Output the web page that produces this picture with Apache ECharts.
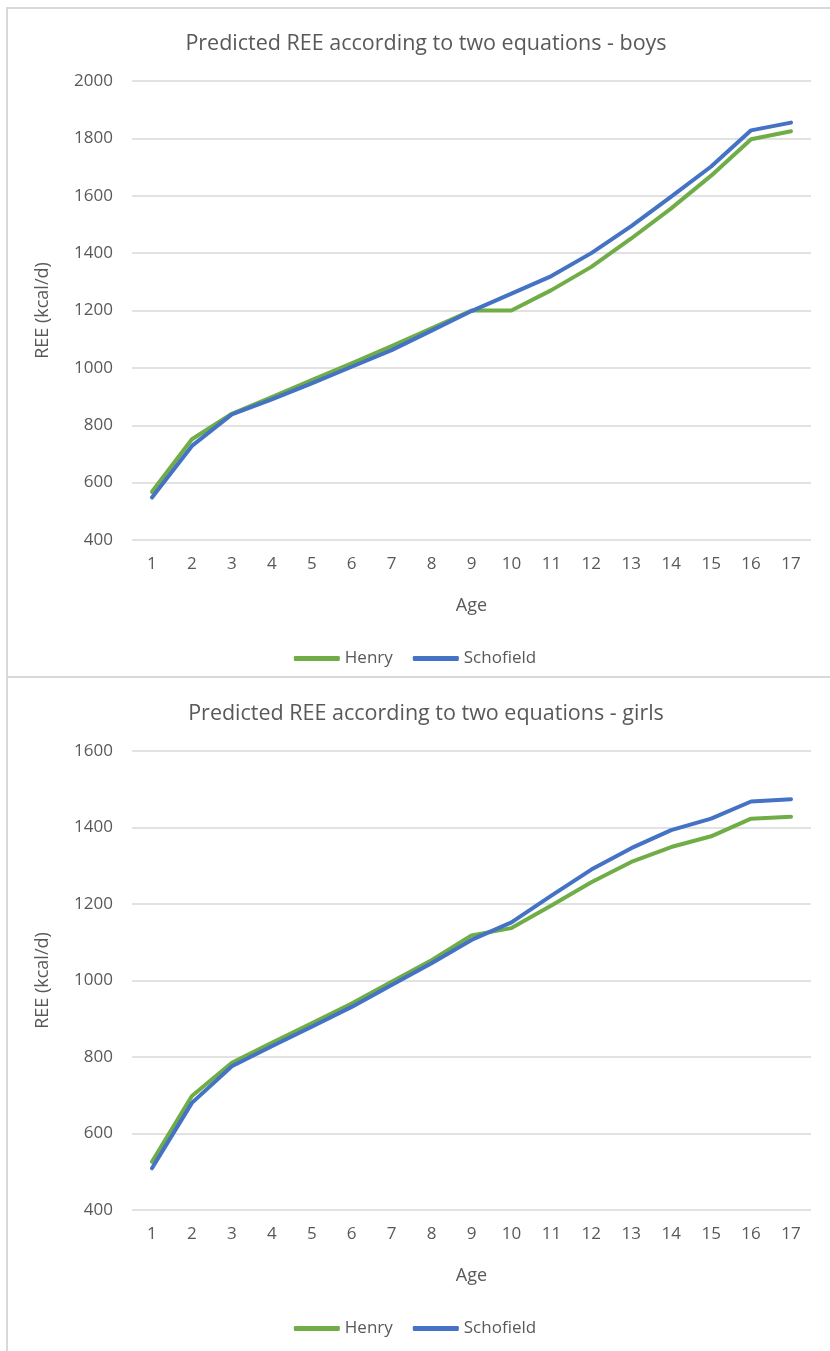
<!DOCTYPE html>
<html>
<head>
<meta charset="utf-8">
<script src="https://cdn.jsdelivr.net/npm/echarts@6/dist/echarts.min.js"></script>
<style>
html,body{margin:0;padding:0;background:#fff;}
#c{width:830px;height:1351px;}
</style>
</head>
<body>
<div id="c"></div>
<script>
const ages = ['1','2','3','4','5','6','7','8','9','10','11','12','13','14','15','16','17'];
const boysHenry = [568, 751, 840, 898, 957, 1016, 1076, 1138, 1200, 1200, 1271, 1352, 1451, 1556, 1670, 1797, 1825];
const boysSchofield = [548, 728, 838, 890, 946, 1004, 1062, 1130, 1198, 1259, 1320, 1400, 1494, 1597, 1702, 1828, 1855];
const girlsHenry = [526, 698, 785, 837, 888, 940, 997, 1053, 1118, 1137, 1196, 1257, 1310, 1349, 1377, 1423, 1428];
const girlsSchofield = [509, 680, 776, 828, 879, 931, 988, 1045, 1106, 1152, 1222, 1290, 1346, 1393, 1423, 1468, 1474];
const seriesNames = ['Henry', 'Schofield'];
const titles = ['Predicted REE according to two equations - boys', 'Predicted REE according to two equations - girls'];
const yNames = ['REE (kcal/d)', 'REE (kcal/d)'];
const xNames = ['Age', 'Age'];

const FONT = 'Open Sans';
const TXT = '#595959';
const GREEN = '#70AD47';
const BLUE = '#4472C4';
const GRIDC = '#d9d9d9';

const chart = echarts.init(document.getElementById('c'), null, {renderer: 'canvas'});

function xAxis(i) {
  return {
    type: 'category', gridIndex: i, data: ages, boundaryGap: true,
    axisLine: {show: false}, axisTick: {show: false},
    axisLabel: {color: TXT, fontFamily: FONT, fontSize: 17, margin: 16},
    name: xNames[i], nameLocation: 'middle', nameGap: 57,
    nameTextStyle: {color: TXT, fontFamily: FONT, fontSize: 18}
  };
}
function yAxis(i, min, max) {
  return {
    type: 'value', gridIndex: i, min: min, max: max, interval: 200,
    axisLine: {show: false}, axisTick: {show: false},
    axisLabel: {color: TXT, fontFamily: FONT, fontSize: 17, margin: 19, formatter: v => String(v)},
    splitLine: {lineStyle: {color: GRIDC, width: 1.5}},
    name: yNames[i], nameLocation: 'middle', nameGap: 80, nameRotate: 90,
    nameTextStyle: {color: TXT, fontFamily: FONT, fontSize: 18}
  };
}
function line(name, data, color, i) {
  return {
    type: 'line', name: name, data: data, xAxisIndex: i, yAxisIndex: i,
    symbol: 'none', smooth: false, color: color,
    lineStyle: {color: color, width: 4, cap: 'round', join: 'round'},
    z: name === 'Schofield' ? 3 : 2
  };
}

const option = {
  animation: false,
  backgroundColor: '#fff',
  graphic: [
    {type: 'rect', shape: {x: 7, y: 8, width: 840, height: 669}, style: {fill: 'none', stroke: GRIDC, lineWidth: 2}, z: -1},
    {type: 'rect', shape: {x: 7, y: 677, width: 840, height: 700}, style: {fill: 'none', stroke: GRIDC, lineWidth: 2}, z: -1}
  ],
  title: [
    {text: titles[0], left: 421, textAlign: 'center', top: 28, textStyle: {color: TXT, fontFamily: FONT, fontSize: 21.5, fontWeight: 'normal'}},
    {text: titles[1], left: 421, textAlign: 'center', top: 698, textStyle: {color: TXT, fontFamily: FONT, fontSize: 21.5, fontWeight: 'normal'}}
  ],
  legend: [
    {data: seriesNames, top: 645, left: 'center', itemWidth: 46, itemHeight: 5, icon: 'roundRect', itemGap: 20,
     textStyle: {color: TXT, fontFamily: FONT, fontSize: 17}},
    {data: seriesNames, top: 1315, left: 'center', itemWidth: 46, itemHeight: 5, icon: 'roundRect', itemGap: 20,
     textStyle: {color: TXT, fontFamily: FONT, fontSize: 17}}
  ],
  grid: [
    {left: 132, right: 19, top: 81, height: 459},
    {left: 132, right: 19, top: 751, height: 459}
  ],
  xAxis: [xAxis(0), xAxis(1)],
  yAxis: [yAxis(0, 400, 2000), yAxis(1, 400, 1600)],
  series: [
    line(seriesNames[0], boysHenry, GREEN, 0),
    line(seriesNames[1], boysSchofield, BLUE, 0),
    line(seriesNames[0], girlsHenry, GREEN, 1),
    line(seriesNames[1], girlsSchofield, BLUE, 1)
  ]
};
chart.setOption(option);
</script>
</body>
</html>
